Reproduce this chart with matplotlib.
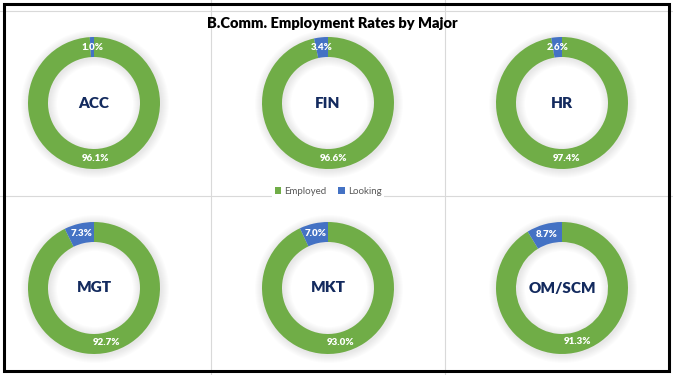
import matplotlib.pyplot as plt
from matplotlib.patches import Wedge, Rectangle
import numpy as np

majors = ['ACC', 'FIN', 'HR', 'MGT', 'MKT', 'OM/SCM']
employed = [96.1, 96.6, 97.4, 92.7, 93.0, 91.3]
looking = [1.0, 3.4, 2.6, 7.3, 7.0, 8.7]
series = ['Employed', 'Looking']
colors = ['#70AD47', '#4472C4']

W, H = 673, 375
plt.rcParams['font.family'] = ['Lato', 'DejaVu Sans']

fig = plt.figure(figsize=(W / 100, H / 100), dpi=100)
ax = fig.add_axes([0, 0, 1, 1])

# cell grid (pixel coords, y measured from top)
grid_c = '#D9D9D9'
for x in [211, 445]:
    ax.plot([x, x], [0, H], color=grid_c, lw=0.8, zorder=0)
for y in [11, 196]:
    ax.plot([0, W], [H - y, H - y], color=grid_c, lw=0.8, zorder=0)

col_x = [94, 328, 562]
row_y = [103, 288]
r_out, ring = 66, 20

handles = None
for i, name in enumerate(majors):
    cx = col_x[i % 3]
    cy = H - row_y[i // 3]
    # soft shadow around the ring
    for k in range(1, 9):
        ax.add_patch(Wedge((cx + 1, cy - 1), r_out + k, 0, 360, width=ring + 2 * k,
                           facecolor='black', edgecolor='none', alpha=0.013, zorder=1))
    wedges, _ = ax.pie([employed[i], looking[i]], colors=colors, startangle=90,
                       counterclock=False, radius=r_out, center=(cx, cy), frame=True,
                       wedgeprops=dict(width=ring, edgecolor='none', zorder=2))
    handles = wedges
    for w, val in zip(wedges, [employed[i], looking[i]]):
        mid = np.deg2rad((w.theta1 + w.theta2) / 2)
        rr = r_out - ring / 2
        ax.text(cx + rr * np.cos(mid), cy + rr * np.sin(mid), f'{val:.1f}%',
                color='white', fontsize=7, fontweight='heavy',
                ha='center', va='center', zorder=3)
    ax.text(cx, cy, name, color='#132A5E', fontsize=11, fontweight='heavy',
            ha='center', va='center', zorder=3)

ax.text(332, H - 23, 'B.Comm. Employment Rates by Major', fontsize=10.5,
        fontweight='heavy', color='black', ha='center', va='center', zorder=3)

leg = ax.legend(handles, series, loc='center', bbox_to_anchor=(328 / W, 1 - 191 / H),
                ncol=2, fontsize=7, frameon=True, fancybox=False, edgecolor='none',
                facecolor='white', framealpha=1, handlelength=0.7, handleheight=0.7,
                handletextpad=0.3, columnspacing=1.2, borderpad=0.3)
for t in leg.get_texts():
    t.set_color('#595959')

# outer black border
ax.add_patch(Rectangle((4, H - 371), 665, 367, fill=False, edgecolor='black',
                       lw=2.2, zorder=5))

ax.set_xlim(0, W)
ax.set_ylim(0, H)
ax.set_aspect('auto')
ax.axis('off')

fig.savefig('out.png', dpi=100, facecolor='white')
